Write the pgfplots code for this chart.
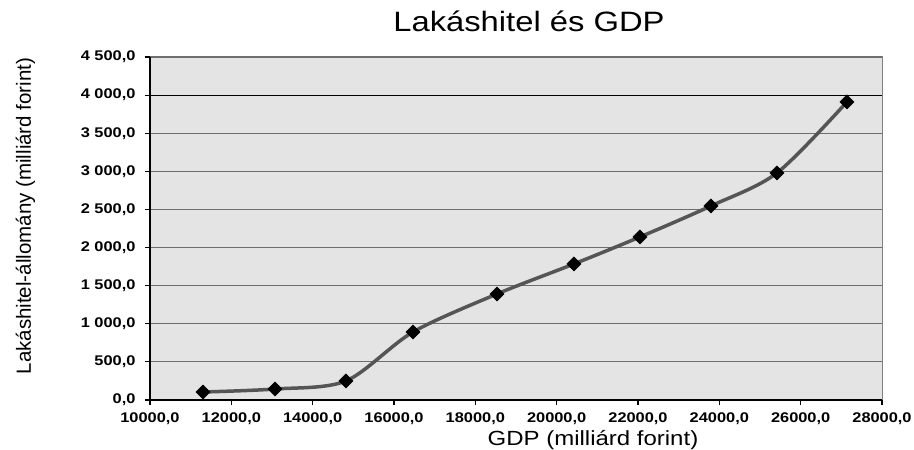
\documentclass[border=0pt]{standalone}
\usepackage{pgfplots}
\pgfplotsset{compat=1.18}
\usepackage{fontspec}
\setmainfont{Liberation Sans}[FakeStretch=1.17]
\newfontfamily\plainsans{Liberation Sans}
\definecolor{bggray}{HTML}{E4E4E4}
\definecolor{gridgray}{HTML}{6E6E6E}
\definecolor{linegray}{HTML}{555555}
\begin{document}
\begin{tikzpicture}
\path[use as bounding box] (-150pt,-50pt) rectangle (764pt,400pt);
\begin{axis}[
  at={(0pt,0pt)}, anchor=south west,
  scale only axis, width=732pt, height=343pt,
  xmin=10000, xmax=28000, ymin=0, ymax=4500,
  scaled x ticks=false, scaled y ticks=false,
  axis x line*=bottom, axis y line*=left,
  axis line style={black, line width=1.2pt},
  axis background/.style={fill=bggray, draw=gray, line width=1pt},
  xtick={10000,12000,...,28000},
  xticklabels={{10000,0},{12000,0},{14000,0},{16000,0},{18000,0},{20000,0},{22000,0},{24000,0},{26000,0},{28000,0}},
  ytick={0,500,...,4500},
  yticklabels={{0,0},{500,0},{1 000,0},{1 500,0},{2 000,0},{2 500,0},{3 000,0},{3 500,0},{4 000,0},{4 500,0}},
  tick align=outside, major tick length=5pt,
  tick style={black, line width=1.2pt},
  ticklabel style={font=\fontsize{14}{16}\selectfont\bfseries},
  yticklabel style={xshift=-6pt},
  xticklabel style={yshift=-4pt},
  ymajorgrids, major grid style={gridgray, line width=1.1pt},
  extra y ticks={4000}, extra y tick labels={},
  extra y tick style={grid=major, major grid style={black, line width=1.1pt}},
]
\addplot[linegray, line width=3.5pt, smooth, tension=0.5,
  mark=square*, mark size=5pt, mark options={rotate=45, fill=black, draw=black, line width=0.5pt}]
  coordinates {
  (11303,105) (13073,144) (14819,250) (16467,892) (18532,1391)
  (20425,1785) (22048,2139) (23794,2546) (25417,2979) (27138,3911)
  };
\end{axis}
\node[anchor=base, font=\fontsize{28}{32}\selectfont] at (379pt,368pt) {Lakáshitel és GDP};
\node[anchor=base, font=\fontsize{20.5}{24}\selectfont] at (443pt,-46pt) {GDP (milliárd forint)};
\node[anchor=base, rotate=90, font=\plainsans\fontsize{20.5}{24}\selectfont] at (-119pt,184pt) {Lakáshitel-állomány (milliárd forint)};
\end{tikzpicture}
\end{document}
